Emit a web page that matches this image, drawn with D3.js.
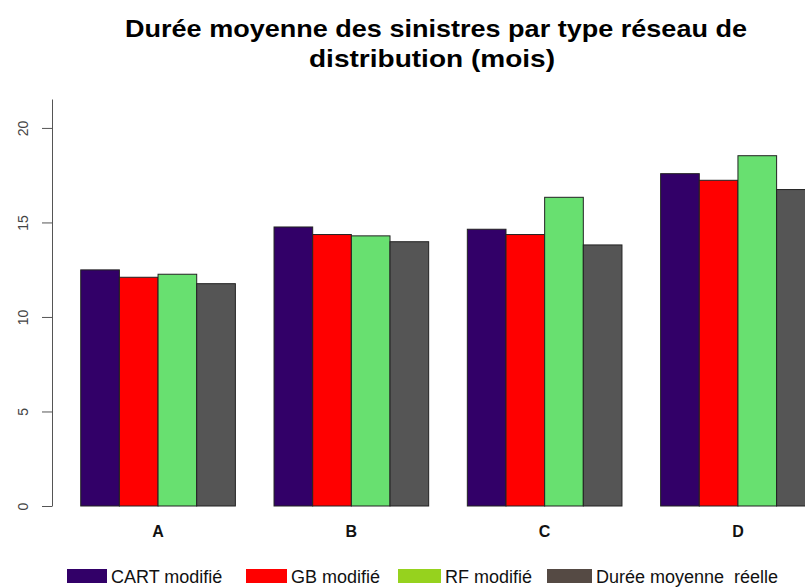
<!DOCTYPE html>
<html>
<head>
<meta charset="utf-8">
<script src="https://cdn.jsdelivr.net/npm/d3@7"></script>
<style>
  body { margin: 0; background: #fff; }
  svg { display: block; font-family: "Liberation Sans", Arial, sans-serif; }
</style>
</head>
<body>
<div id="chart"></div>
<script>
const categories = ["A", "B", "C", "D"]
const seriesNames = ["CART modifié", "GB modifié", "RF modifié", "Durée moyenne  réelle"]
const cartValues = [12.49, 14.76, 14.64, 17.58]
const gbValues = [12.1, 14.36, 14.36, 17.23]
const rfValues = [12.26, 14.29, 16.33, 18.53]
const reelleValues = [11.76, 13.98, 13.81, 16.74]
const yTicks = [0, 5, 10, 15, 20]

const barColors = ["#320068", "#ff0000", "#68e070", "#555555"]
const legendColors = ["#320068", "#ff0000", "#96d21e", "#554a44"]

const series = [cartValues, gbValues, rfValues, reelleValues]
const rows = categories.map((c, i) => ({ cat: c, values: series.map((s) => s[i]) }))

const width = 805
const height = 587

const svg = d3.select("#chart")
  .append("svg")
  .attr("width", width)
  .attr("height", height)

// title
const title = svg.append("g").attr("font-weight", "bold").attr("fill", "#000")
title.append("text")
  .attr("x", 436)
  .attr("y", 37)
  .attr("text-anchor", "middle")
  .attr("font-size", "24px")
  .attr("textLength", 622)
  .attr("lengthAdjust", "spacingAndGlyphs")
  .text("Durée moyenne des sinistres par type réseau de")
title.append("text")
  .attr("x", 432)
  .attr("y", 67)
  .attr("text-anchor", "middle")
  .attr("font-size", "24px")
  .attr("textLength", 246)
  .attr("lengthAdjust", "spacingAndGlyphs")
  .text("distribution (mois)")

const axisX = 52

const y = d3.scaleLinear()
  .domain([0, 21.53])
  .range([506, 99])

const x0 = d3.scaleBand()
  .domain(categories)
  .range([61.4, 834.6])
  .paddingInner(0.2)
  .paddingOuter(0.1)

const x1 = d3.scaleBand()
  .domain(d3.range(series.length))
  .range([0, x0.bandwidth()])

// bars
const groups = svg.append("g")
  .selectAll("g")
  .data(rows)
  .enter()
  .append("g")
  .attr("transform", (d) => `translate(${x0(d.cat)},0)`)

groups.selectAll("rect")
  .data((d) => d.values.map((v, i) => ({ v, i })))
  .enter()
  .append("rect")
  .attr("x", (d) => x1(d.i))
  .attr("y", (d) => y(d.v))
  .attr("width", x1.bandwidth())
  .attr("height", (d) => y(0) - y(d.v))
  .attr("fill", (d) => barColors[d.i])
  .attr("stroke", "#222")
  .attr("stroke-width", 1)

// y axis
const yAxis = svg.append("g")
  .attr("transform", `translate(${axisX},0)`)
  .call(d3.axisLeft(y).tickValues(yTicks).tickSize(10).tickSizeOuter(0))

yAxis.select(".domain").attr("stroke", "#555")
yAxis.selectAll(".tick line").attr("stroke", "#555")
yAxis.selectAll(".tick text")
  .attr("x", null)
  .attr("dy", null)
  .attr("transform", "translate(-24,0) rotate(-90)")
  .attr("text-anchor", "middle")
  .attr("font-size", "14px")
  .attr("font-family", "\"Liberation Sans\", Arial, sans-serif")
  .attr("fill", "#444")

// category labels
svg.append("g")
  .selectAll("text")
  .data(categories)
  .enter()
  .append("text")
  .attr("x", (d) => x0(d) + x0.bandwidth() / 2)
  .attr("y", 537)
  .attr("text-anchor", "middle")
  .attr("font-size", "16px")
  .attr("font-weight", "bold")
  .attr("fill", "#111")
  .text((d) => d)

// legend
const legendX = [67, 246, 398, 547]
const legendW = [40, 41, 43, 45]
const legend = svg.append("g")
  .selectAll("g")
  .data(seriesNames)
  .enter()
  .append("g")
  .attr("transform", (d, i) => `translate(${legendX[i]},569)`)

legend.append("rect")
  .attr("width", (d, i) => legendW[i])
  .attr("height", 14)
  .attr("fill", (d, i) => legendColors[i])

legend.append("text")
  .attr("x", (d, i) => legendW[i] + 4)
  .attr("y", 14)
  .attr("font-size", "18px")
  .attr("fill", "#111")
  .style("white-space", "pre")
  .text((d) => d)
</script>
</body>
</html>
